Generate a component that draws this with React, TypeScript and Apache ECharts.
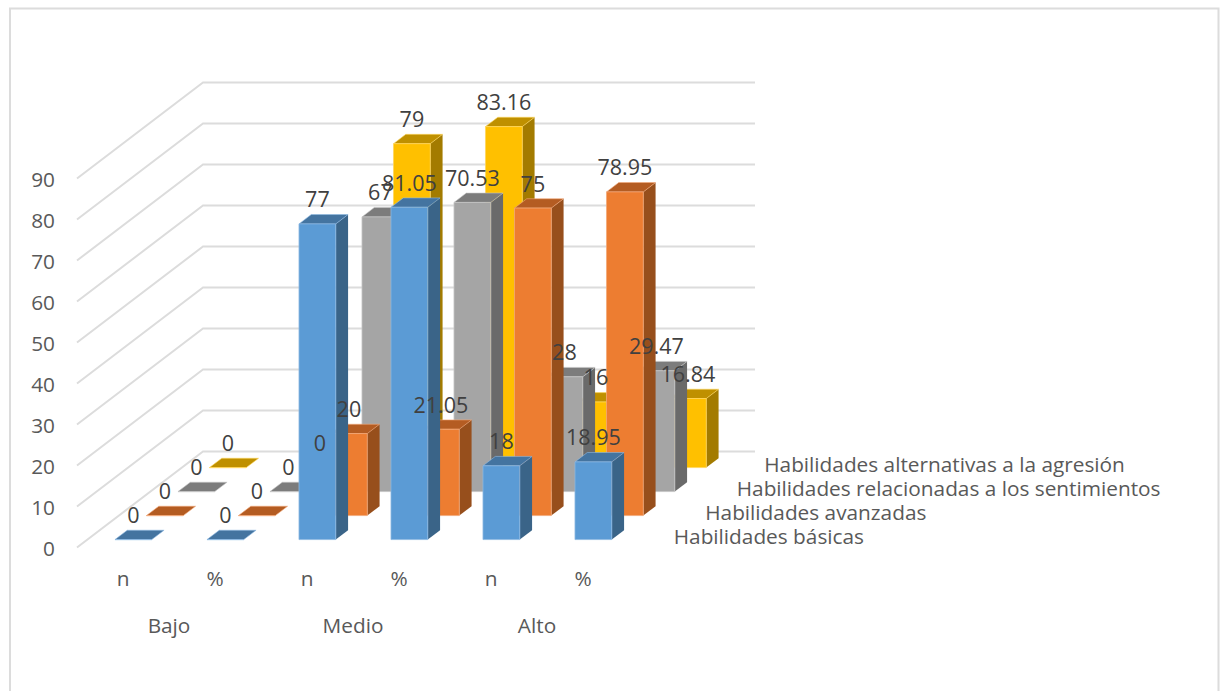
import React, { useEffect, useRef } from "react";
import * as echarts from "echarts";

const levelLabels = ["Bajo", "Medio", "Alto"];
const measureLabels = ["n", "%", "n", "%", "n", "%"];
const valueTicks = [0, 10, 20, 30, 40, 50, 60, 70, 80, 90];

const skillNames = [
  "Habilidades básicas",
  "Habilidades avanzadas",
  "Habilidades relacionadas a los sentimientos",
  "Habilidades alternativas a la agresión",
];
const basicas = [0, 0, 77, 81.05, 18, 18.95];
const avanzadas = [0, 0, 20, 21.05, 75, 78.95];
const sentimientos = [0, 0, 67, 70.53, 28, 29.47];
const alternativas = [0, 0, 79, 83.16, 16, 16.84];
const skillValues = [basicas, avanzadas, sentimientos, alternativas];

// front face, top face, side face and edge tint of each skill's bars
const faceColors = [
  { front: "#5B9BD5", top: "#4474A0", side: "#3A6488", edge: "#8DB9E2" },
  { front: "#ED7D31", top: "#B45C22", side: "#974F1C", edge: "#F3A878" },
  { front: "#A5A5A5", top: "#7C7C7C", side: "#6A6A6A", edge: "#C4C4C4" },
  { front: "#FFC000", top: "#BF9000", side: "#A37B00", edge: "#FFD65C" },
];

// Oblique projection: one depth row moves a point this far on screen.
const DEPTH_DX = 31.5;
const DEPTH_DY = -24;
const DEPTH_ROWS = 4;
const BAR_FRONT = 0.33;
const BAR_BACK = 0.72;
const BAR_WIDTH_RATIO = 0.4;

const FONT = '"Open Sans", sans-serif';
const AXIS_FONT_SIZE = 20.8;
const VALUE_FONT_SIZE = 21.5;

function project(pt: number[], depth: number) {
  return [pt[0] + depth * DEPTH_DX, pt[1] + depth * DEPTH_DY];
}

function barRenderer(row: number) {
  const colors = faceColors[row];
  return (_params: any, api: any) => {
    const band = api.size([1, 0])[0];
    const half = (band * BAR_WIDTH_RATIO) / 2;
    const cat = api.value(0);
    const base = api.coord([cat, 0]);
    const top = api.coord([cat, api.value(1)]);
    const d0 = row + BAR_FRONT;
    const d1 = row + BAR_BACK;
    const at = (pt: number[], dx: number, depth: number) => {
      const p = project(pt, depth);
      return [p[0] + dx, p[1]];
    };
    const children: any[] = [
      {
        type: "polygon",
        shape: { points: [at(top, half, d0), at(top, half, d1), at(base, half, d1), at(base, half, d0)] },
        style: { fill: colors.side },
      },
      {
        type: "polygon",
        shape: { points: [at(top, -half, d0), at(top, half, d0), at(top, half, d1), at(top, -half, d1)] },
        style: { fill: colors.top, stroke: colors.edge, lineWidth: 0.6 },
      },
      {
        type: "polygon",
        shape: { points: [at(base, -half, d0), at(base, half, d0), at(top, half, d0), at(top, -half, d0)] },
        style: { fill: colors.front, stroke: colors.edge, lineWidth: 0.8 },
      },
    ];
    return { type: "group", children };
  };
}

function valueLabelRenderer(row: number) {
  return (_params: any, api: any) => {
    const value = api.value(1);
    const p = project(api.coord([api.value(0), value]), row + BAR_FRONT);
    return {
      type: "text",
      style: {
        x: p[0],
        y: p[1] - 25,
        text: String(value),
        align: "center",
        verticalAlign: "middle",
        fill: "#404040",
        font: `${VALUE_FONT_SIZE}px ${FONT}`,
      },
    };
  };
}

// Back-wall gridline: runs along the left wall, then across the back wall.
function gridlineRenderer(_params: any, api: any) {
  const band = api.size([1, 0])[0];
  const first = api.coord([0, api.value(1)]);
  const front = [first[0] - band / 2, first[1]];
  const corner = project(front, DEPTH_ROWS);
  const end = [corner[0] + band * measureLabels.length, corner[1]];
  return {
    type: "polyline",
    shape: { points: [front, corner, end] },
    style: { stroke: "#DCDCDC", lineWidth: 2, fill: "none" },
  };
}

function depthAxisRenderer(params: any, api: any) {
  const row = params.dataIndex;
  const band = api.size([1, 0])[0];
  const last = api.coord([measureLabels.length - 1, 0]);
  const p = project([last[0] + band / 2, last[1]], row + 0.5);
  // The rearmost label sits a little closer to the row before it.
  const nudge = row === DEPTH_ROWS - 1 ? -4 : 0;
  return {
    type: "text",
    style: {
      x: p[0] + 29 + nudge,
      y: p[1] + 0.5,
      text: skillNames[row],
      align: "left",
      verticalAlign: "middle",
      fill: "#595959",
      font: `${AXIS_FONT_SIZE}px ${FONT}`,
    },
  };
}

export default function App() {
  const ref = useRef<HTMLDivElement>(null);

  useEffect(() => {
    document.body.style.margin = "0";
    const chart = echarts.init(ref.current!, undefined, { renderer: "svg" });
    const pairs = (values: number[]) => values.map((v, i) => [i, v]);

    const series: any[] = [
      {
        type: "custom",
        silent: true,
        clip: false,
        z: 1,
        renderItem: gridlineRenderer,
        data: valueTicks.map((v) => [0, v]),
      },
    ];
    // Rows are painted from the back wall forward.
    for (let row = DEPTH_ROWS - 1; row >= 0; row--) {
      series.push({
        type: "custom",
        name: skillNames[row],
        silent: true,
        clip: false,
        z: 2,
        renderItem: barRenderer(row),
        data: pairs(skillValues[row]),
      });
    }
    for (let row = 0; row < DEPTH_ROWS; row++) {
      series.push({
        type: "custom",
        silent: true,
        clip: false,
        z: 3,
        renderItem: valueLabelRenderer(row),
        data: pairs(skillValues[row]),
      });
    }
    series.push({
      type: "custom",
      silent: true,
      clip: false,
      z: 3,
      renderItem: depthAxisRenderer,
      data: skillNames.map((_, i) => [0, i]),
    });

    chart.setOption({
      animation: false,
      backgroundColor: "#FFFFFF",
      grid: { left: 77, top: 178.5, width: 552, height: 369, containLabel: false },
      graphic: [
        {
          type: "rect",
          silent: true,
          shape: { x: 10, y: 8.5, width: 1208.5, height: 700 },
          style: { fill: "none", stroke: "#DCDCDC", lineWidth: 2 },
        },
      ],
      xAxis: [
        {
          type: "category",
          data: measureLabels,
          position: "bottom",
          axisLine: { show: false },
          axisTick: { show: false },
          axisLabel: { interval: 0, margin: 20, color: "#595959", fontFamily: FONT, fontSize: AXIS_FONT_SIZE },
        },
        {
          type: "category",
          data: levelLabels,
          position: "bottom",
          axisLine: { show: false },
          axisTick: { show: false },
          axisLabel: { interval: 0, margin: 67, color: "#595959", fontFamily: FONT, fontSize: AXIS_FONT_SIZE },
        },
      ],
      yAxis: {
        type: "value",
        min: 0,
        max: 90,
        interval: 10,
        axisLine: { show: false },
        axisTick: { show: false },
        splitLine: { show: false },
        axisLabel: { margin: 22, color: "#595959", fontFamily: FONT, fontSize: AXIS_FONT_SIZE },
      },
      series,
    });
    return () => chart.dispose();
  }, []);

  return <div ref={ref} style={{ position: "fixed", left: 0, top: 0, width: 1224, height: 691 }} />;
}
